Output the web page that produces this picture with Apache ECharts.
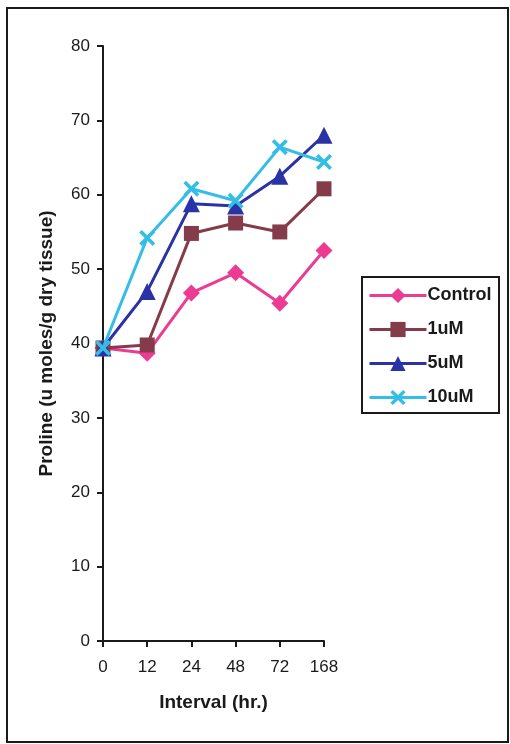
<!DOCTYPE html>
<html>
<head>
<meta charset="utf-8">
<script src="https://cdn.jsdelivr.net/npm/echarts@6/dist/echarts.min.js"></script>
<style>
html,body{margin:0;padding:0;background:#fff;}
#chart{width:510px;height:744px;}
</style>
</head>
<body>
<div id="chart"></div>
<script>
const categories = ['0', '12', '24', '48', '72', '168'];
const seriesNames = ['Control', '1uM', '5uM', '10uM'];
const controlValues = [39.4, 38.7, 46.8, 49.5, 45.4, 52.5];
const oneUMValues = [39.4, 39.8, 54.8, 56.2, 55.0, 60.8];
const fiveUMValues = [39.4, 47.0, 58.8, 58.5, 62.5, 68.0];
const tenUMValues = [39.4, 54.2, 60.8, 59.2, 66.4, 64.4];
const yTicks = [0, 10, 20, 30, 40, 50, 60, 70, 80];

const FONT = '"Liberation Sans", Arial, sans-serif';
const xPath = 'path://M0,1.6 L1.6,0 L5,3.4 L8.4,0 L10,1.6 L6.6,5 L10,8.4 L8.4,10 L5,6.6 L1.6,10 L0,8.4 L3.4,5 Z';

const colors = ['#ec3b93', '#843c4a', '#2a33a6', '#34bde6'];
const symbols = ['diamond', 'rect', 'triangle', xPath];
const sizes = [17, 15, 17, 16];
const dataSets = [controlValues, oneUMValues, fiveUMValues, tenUMValues];

const chart = echarts.init(document.getElementById('chart'), null, {renderer: 'canvas'});
chart.setOption({
  backgroundColor: '#ffffff',
  animation: false,
  grid: {left: 103, right: 186, top: 46, bottom: 103, containLabel: false},
  legend: {
    left: 368, top: 286, orient: 'vertical',
    padding: 0,
    itemWidth: 57, itemHeight: 19, itemGap: 15,
    data: seriesNames,
    lineStyle: {width: 3},
    textStyle: {fontFamily: FONT, fontSize: 18, fontWeight: 'bold', color: '#1a1a1a', lineHeight: 19, padding: [0, 0, 0, -4]}
  },
  graphic: [
    {type: 'rect', shape: {x: 7, y: 8, width: 501, height: 734}, style: {fill: 'none', stroke: '#1a1a1a', lineWidth: 2}, silent: true},
    {type: 'rect', shape: {x: 362, y: 277, width: 137, height: 136}, style: {fill: 'none', stroke: '#1a1a1a', lineWidth: 2}, silent: true}
  ],
  xAxis: {
    type: 'category', data: categories, boundaryGap: false,
    name: 'Interval (hr.)', nameLocation: 'middle', nameGap: 52,
    nameTextStyle: {fontFamily: FONT, fontSize: 19, fontWeight: 'bold', color: '#1a1a1a'},
    axisLine: {lineStyle: {color: '#1a1a1a', width: 2}},
    axisTick: {show: true, alignWithLabel: true, length: 6, lineStyle: {color: '#1a1a1a', width: 2}},
    axisLabel: {fontFamily: FONT, fontSize: 17, color: '#1a1a1a', margin: 18},
    splitLine: {show: false}
  },
  yAxis: {
    type: 'value', min: 0, max: 80, interval: 10,
    name: 'Proline (u moles/g dry tissue)', nameLocation: 'middle', nameGap: 47, nameRotate: 90,
    nameTextStyle: {fontFamily: FONT, fontSize: 19, fontWeight: 'bold', color: '#1a1a1a'},
    axisLine: {show: true, lineStyle: {color: '#1a1a1a', width: 2}},
    axisTick: {show: true, length: 6, lineStyle: {color: '#1a1a1a', width: 2}},
    axisLabel: {fontFamily: FONT, fontSize: 17, color: '#1a1a1a', margin: 13,
      formatter: v => yTicks.includes(v) ? String(v) : ''},
    splitLine: {show: false}
  },
  series: seriesNames.map((name, i) => ({
    name: name, type: 'line', data: dataSets[i],
    symbol: symbols[i], symbolSize: sizes[i],
    lineStyle: {color: colors[i], width: 3},
    itemStyle: {color: colors[i]},
    z: 2 + i
  }))
});
</script>
</body>
</html>
